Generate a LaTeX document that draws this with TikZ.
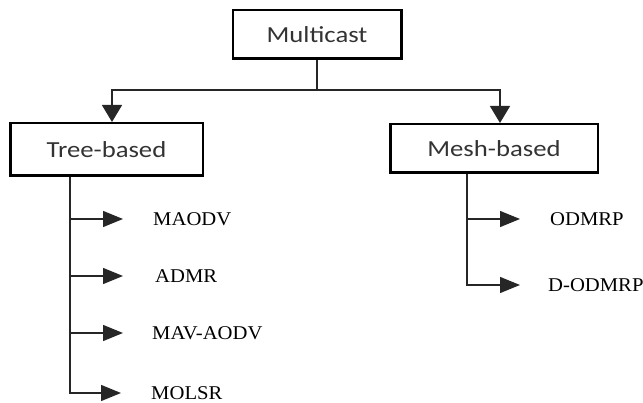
\documentclass[tikz,border=0pt]{standalone}
\usepackage{fontspec}
\usetikzlibrary{arrows.meta}
\newfontfamily\boxfont[FakeStretch=1.16]{Carlito}
\newfontfamily\leaffont[FakeStretch=1.06]{Liberation Serif}
\begin{document}
\begin{tikzpicture}[x=1pt,y=-1pt,
  catbox/.style={draw, line width=2.5pt, inner sep=0pt, text=black!80,
    font=\boxfont\fontsize{23}{27}\selectfont},
  leaf/.style={anchor=west, inner sep=0pt, font=\leaffont\fontsize{19.5}{23}\selectfont},
  conn/.style={line width=1.3pt, draw=black!85},
  darr/.style={conn, -{Triangle[length=17pt,width=20pt]}},
  sarr/.style={conn, -{Triangle[length=20pt,width=16pt]}}]
\useasboundingbox (0,0) rectangle (643,403);

% category boxes
\node[catbox, minimum width=168.5pt, minimum height=48.5pt] (mc) at (317,34.5) {Multicast};
\node[catbox, minimum width=192.5pt, minimum height=52.5pt] (tb) at (106.5,149.5) {Tree-based};
\node[catbox, minimum width=207.5pt, minimum height=48.5pt] (mb) at (494,148.5) {Mesh-based};

% split under Multicast
\coordinate (jm) at (317,90);
\coordinate (jl) at (112,90);
\coordinate (jr) at (500,90);
\draw[conn] (mc.south) -- (jm);
\draw[darr] (jm) -- (jl) -- (jl |- tb.north);
\draw[darr] (jm) -- (jr) -- (jr |- mb.north);

% tree-based leaves
\node[leaf] (maodv) at (153,219) {MAODV};
\node[leaf] (admr)  at (155,276) {ADMR};
\node[leaf] (mav)   at (152,333) {MAV-AODV};
\node[leaf] (molsr) at (151,393) {MOLSR};
\coordinate (t1) at (70,219);
\coordinate (t2) at (70,276);
\coordinate (t3) at (70,333);
\coordinate (t4) at (70,393);
\draw[sarr, shorten >=30pt] (t4 |- tb.south) -- (t4) -- (molsr.west);
\draw[sarr, shorten >=30pt] (t1) -- (maodv.west);
\draw[sarr, shorten >=32pt] (t2) -- (admr.west);
\draw[sarr, shorten >=29pt] (t3) -- (mav.west);

% mesh-based leaves
\node[leaf] (odmrp)  at (550,219) {ODMRP};
\node[leaf] (dodmrp) at (548,285) {D-ODMRP};
\coordinate (m1) at (467,219);
\coordinate (m2) at (467,285);
\draw[sarr, shorten >=28pt] (m2 |- mb.south) -- (m2) -- (dodmrp.west);
\draw[sarr, shorten >=30pt] (m1) -- (odmrp.west);
\end{tikzpicture}
\end{document}
